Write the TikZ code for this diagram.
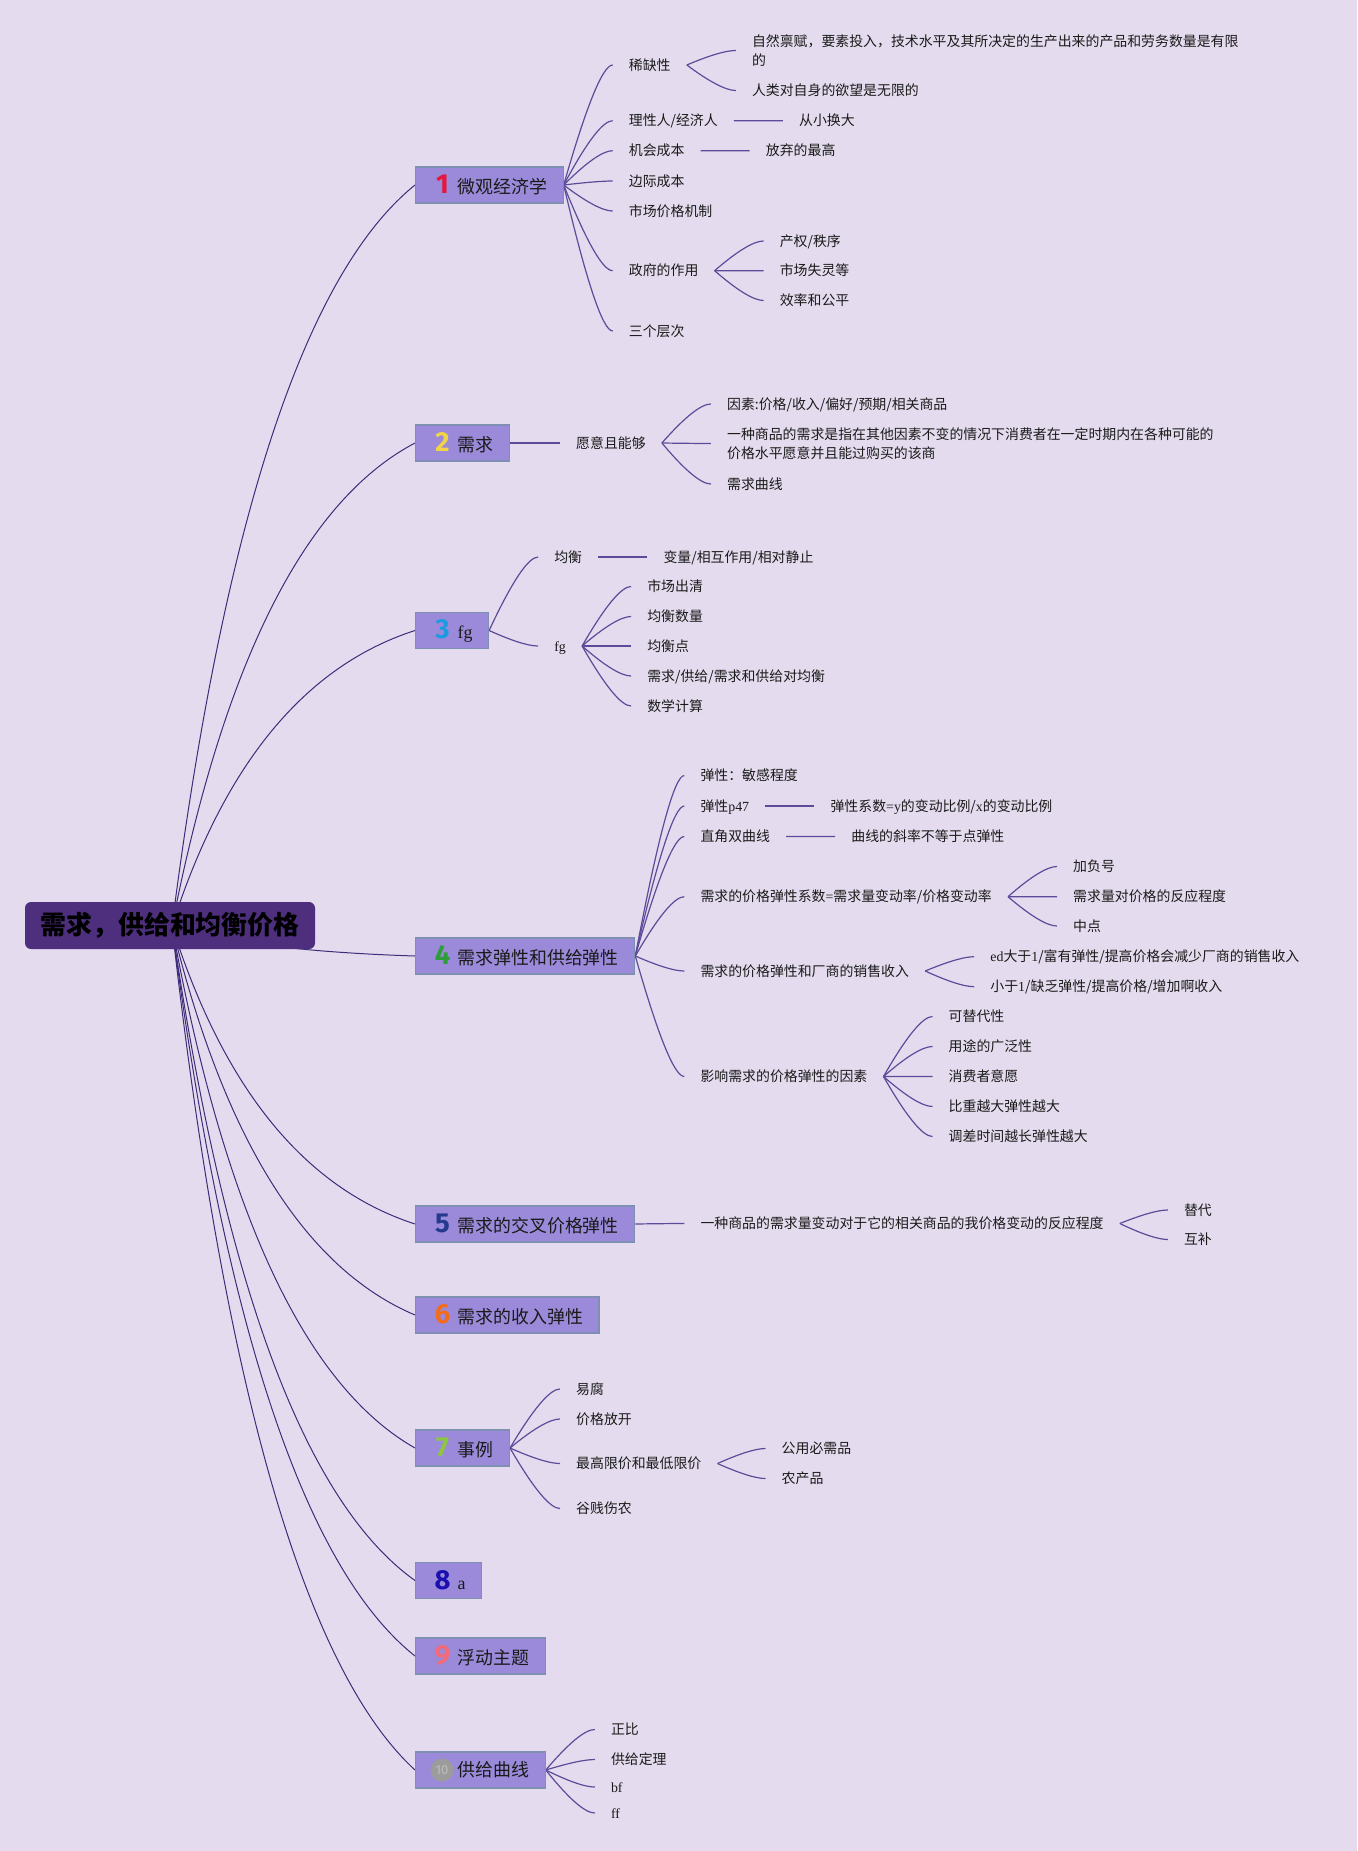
\documentclass[tikz,border=0pt]{standalone}
\usepackage{fontspec}
\setmainfont{Noto Sans CJK SC}
\newfontfamily\latfont{Liberation Serif}
\newfontfamily\numfont{Fira Sans}
\usetikzlibrary{calc,backgrounds}
\definecolor{bgcol}{HTML}{E4DCEE}
\definecolor{topicfill}{HTML}{9A8AD9}
\definecolor{topicdraw}{HTML}{7F8FB2}
\definecolor{rootfill}{HTML}{4E2F7E}
\definecolor{mainln}{HTML}{3D2C78}
\definecolor{subln}{HTML}{5C4B99}
\definecolor{txt}{HTML}{1A1A1A}
\definecolor{n1}{HTML}{E5173F}
\definecolor{n2}{HTML}{F2D546}
\definecolor{n3}{HTML}{1E9BE0}
\definecolor{n4}{HTML}{2E9E3A}
\definecolor{n5}{HTML}{253A8E}
\definecolor{n6}{HTML}{F46B1A}
\definecolor{n7}{HTML}{8DC640}
\definecolor{n8}{HTML}{1A0FAE}
\definecolor{n9}{HTML}{F56A78}
\definecolor{tencirc}{HTML}{9C9C9C}
\definecolor{tentext}{HTML}{BDBDBD}
\newcommand{\LatT}[1]{{\latfont #1}}
\newcommand{\tnum}[2]{\makebox[22pt]{\textcolor{#1}{\numfont\bfseries\fontsize{27.5}{27.5}\selectfont #2}}\hspace{4pt}}
\newcommand{\rootlink}[1]{\draw[mainline] let \p1=(rootc), \p2=(#1.west) in (\p1) .. controls ({0.7867*\x1+0.2133*\x2},{0.4533*\y1+0.5467*\y2}) and ({0.4533*\x1+0.5467*\x2},{0.12*\y1+0.88*\y2}) .. (\p2);}
\newcommand{\sublink}[2]{\draw[subline] let \p1=(#1.east), \p2=(#2.west) in (\p1) .. controls ({0.5333*\x1+0.4667*\x2},{0.3333*\y1+0.6667*\y2}) and ({0.2*\x1+0.8*\x2},{\y2}) .. (\p2);}
\tikzset{
  root/.style={rectangle, rounded corners=6pt, fill=rootfill, minimum width=290pt, minimum height=47pt, inner sep=0pt, text=black, font=\bfseries\fontsize{25.9}{26}\selectfont},
  topic/.style={rectangle, anchor=west, fill=topicfill, draw=topicdraw, line width=1.2pt, minimum height=36pt, inner xsep=16pt, inner ysep=0pt, text=txt, font=\fontsize{17.9}{20}\selectfont},
  sub/.style={anchor=west, inner xsep=16pt, inner ysep=2pt, text=txt, font=\fontsize{13.9}{19.5}\selectfont, text height=12.2pt, text depth=1.7pt},
  subml/.style={anchor=west, inner xsep=16pt, inner ysep=2pt, text=txt, font=\fontsize{13.9}{19.3}\selectfont, align=left},
  mainline/.style={draw=mainln, line width=1pt},
  subline/.style={draw=subln, line width=1.2pt},
}
\begin{document}
\begin{tikzpicture}[x=1pt,y=-1pt]
\useasboundingbox (0,0) rectangle (1357,1851);
\begin{scope}[on background layer]
\fill[bgcol] (0,0) rectangle (1357,1851);
\end{scope}

% root
\node[root] (root) at (170,925.5) {需求，供给和均衡价格};
\coordinate (rootc) at (172,926);

% topic 1
\node[topic] (t1) at (415,185) {\tnum{n1}{1}微观经济学};
\node[sub,xshift=49pt] (a1) at (t1.east |- 0,65) {稀缺性};
\node[sub,xshift=49pt] (a2) at (t1.east |- 0,120.7) {理性人/经济人};
\node[sub,xshift=49pt] (a3) at (t1.east |- 0,150.7) {机会成本};
\node[sub,xshift=49pt] (a4) at (t1.east |- 0,181) {边际成本};
\node[sub,xshift=49pt] (a5) at (t1.east |- 0,211) {市场价格机制};
\node[sub,xshift=49pt] (a6) at (t1.east |- 0,270.7) {政府的作用};
\node[sub,xshift=49pt] (a7) at (t1.east |- 0,331) {三个层次};
\node[subml,xshift=49pt] (a11) at (a1.east |- 0,50.5) {自然禀赋，要素投入，技术水平及其所决定的生产出来的产品和劳务数量是有限\\的};
\node[sub,xshift=49pt] (a12) at (a1.east |- 0,90.5) {人类对自身的欲望是无限的};
\node[sub,xshift=49pt] (a21) at (a2.east |- 0,120.7) {从小换大};
\node[sub,xshift=49pt] (a31) at (a3.east |- 0,150.7) {放弃的最高};
\node[sub,xshift=49pt] (a61) at (a6.east |- 0,241) {产权/秩序};
\node[sub,xshift=49pt] (a62) at (a6.east |- 0,270.7) {市场失灵等};
\node[sub,xshift=49pt] (a63) at (a6.east |- 0,300.5) {效率和公平};

% topic 2
\node[topic] (t2) at (415,443) {\tnum{n2}{2}需求};
\node[sub,xshift=50pt] (b1) at (t2.east |- 0,443) {愿意且能够};
\node[sub,xshift=49pt] (b11) at (b1.east |- 0,404) {因素:价格/收入/偏好/预期/相关商品};
\node[subml,xshift=49pt] (b12) at (b1.east |- 0,443.5) {一种商品的需求是指在其他因素不变的情况下消费者在一定时期内在各种可能的\\价格水平愿意并且能过购买的该商};
\node[sub,xshift=49pt] (b13) at (b1.east |- 0,484) {需求曲线};

% topic 3
\node[topic] (t3) at (415,630.5) {\tnum{n3}{3}\LatT{fg}};
\node[sub,xshift=49pt] (c1) at (t3.east |- 0,557) {均衡};
\node[sub,xshift=49pt] (c2) at (t3.east |- 0,646) {\LatT{fg}};
\node[sub,xshift=49pt] (c11) at (c1.east |- 0,557) {变量/相互作用/相对静止};
\node[sub,xshift=49pt] (c21) at (c2.east |- 0,586.5) {市场出清};
\node[sub,xshift=49pt] (c22) at (c2.east |- 0,616.5) {均衡数量};
\node[sub,xshift=49pt] (c23) at (c2.east |- 0,646) {均衡点};
\node[sub,xshift=49pt] (c24) at (c2.east |- 0,676) {需求/供给/需求和供给对均衡};
\node[sub,xshift=49pt] (c25) at (c2.east |- 0,706) {数学计算};

% topic 4
\node[topic] (t4) at (415,956) {\tnum{n4}{4}需求弹性和供给弹性};
\node[sub,xshift=49pt] (d1) at (t4.east |- 0,775.5) {弹性：敏感程度};
\node[sub,xshift=49pt] (d2) at (t4.east |- 0,806) {弹性\LatT{p47}};
\node[sub,xshift=49pt] (d3) at (t4.east |- 0,836.5) {直角双曲线};
\node[sub,xshift=49pt] (d4) at (t4.east |- 0,896.7) {需求的价格弹性系数\LatT{=}需求量变动率/价格变动率};
\node[sub,xshift=49pt] (d5) at (t4.east |- 0,971) {需求的价格弹性和厂商的销售收入};
\node[sub,xshift=49pt] (d6) at (t4.east |- 0,1076.5) {影响需求的价格弹性的因素};
\node[sub,xshift=49pt] (d21) at (d2.east |- 0,806) {弹性系数\LatT{=y}的变动比例/\LatT{x}的变动比例};
\node[sub,xshift=49pt] (d31) at (d3.east |- 0,836.5) {曲线的斜率不等于点弹性};
\node[sub,xshift=49pt] (d41) at (d4.east |- 0,866.5) {加负号};
\node[sub,xshift=49pt] (d42) at (d4.east |- 0,896.7) {需求量对价格的反应程度};
\node[sub,xshift=49pt] (d43) at (d4.east |- 0,926) {中点};
\node[sub,xshift=49pt] (d51) at (d5.east |- 0,956.7) {\LatT{ed}大于\LatT{1}/富有弹性/提高价格会减少厂商的销售收入};
\node[sub,xshift=49pt] (d52) at (d5.east |- 0,986.7) {小于\LatT{1}/缺乏弹性/提高价格/增加啊收入};
\node[sub,xshift=49pt] (d61) at (d6.east |- 0,1016.5) {可替代性};
\node[sub,xshift=49pt] (d62) at (d6.east |- 0,1046.5) {用途的广泛性};
\node[sub,xshift=49pt] (d63) at (d6.east |- 0,1076.5) {消费者意愿};
\node[sub,xshift=49pt] (d64) at (d6.east |- 0,1106.5) {比重越大弹性越大};
\node[sub,xshift=49pt] (d65) at (d6.east |- 0,1136.5) {调差时间越长弹性越大};

% topic 5
\node[topic] (t5) at (415,1224) {\tnum{n5}{5}需求的交叉价格弹性};
\node[sub,xshift=49pt] (e1) at (t5.east |- 0,1223.5) {一种商品的需求量变动对于它的相关商品的我价格变动的反应程度};
\node[sub,xshift=48pt] (e11) at (e1.east |- 0,1210) {替代};
\node[sub,xshift=48pt] (e12) at (e1.east |- 0,1239.5) {互补};

% topic 6
\node[topic] (t6) at (415,1315) {\tnum{n6}{6}需求的收入弹性};

% topic 7
\node[topic] (t7) at (415,1448) {\tnum{n7}{7}事例};
\node[sub,xshift=50pt] (g1) at (t7.east |- 0,1389) {易腐};
\node[sub,xshift=50pt] (g2) at (t7.east |- 0,1419) {价格放开};
\node[sub,xshift=50pt] (g3) at (t7.east |- 0,1463.5) {最高限价和最低限价};
\node[sub,xshift=50pt] (g4) at (t7.east |- 0,1508.5) {谷贱伤农};
\node[sub,xshift=48pt] (g31) at (g3.east |- 0,1448.5) {公用必需品};
\node[sub,xshift=48pt] (g32) at (g3.east |- 0,1478.5) {农产品};

% topic 8, 9
\node[topic] (t8) at (415,1580.5) {\tnum{n8}{8}\LatT{a}};
\node[topic] (t9) at (415,1656) {\tnum{n9}{9}浮动主题};

% topic 10
\node[topic] (t10) at (415,1770) {\makebox[22pt]{}\hspace{4pt}供给曲线};
\node[circle, fill=tencirc, minimum size=23pt, inner sep=0pt, text=tentext, font=\numfont\fontsize{13}{13}\selectfont] (t10i) at ([xshift=27pt]t10.west) {10};
\node[sub,xshift=49pt] (j1) at (t10.east |- 0,1729.5) {正比};
\node[sub,xshift=49pt] (j2) at (t10.east |- 0,1759.5) {供给定理};
\node[sub,xshift=49pt] (j3) at (t10.east |- 0,1787) {\LatT{bf}};
\node[sub,xshift=49pt] (j4) at (t10.east |- 0,1813) {\LatT{ff}};

\begin{scope}[on background layer]
\rootlink{t1}\rootlink{t2}\rootlink{t3}\rootlink{t4}\rootlink{t5}
\rootlink{t6}\rootlink{t7}\rootlink{t8}\rootlink{t9}\rootlink{t10}
\sublink{t1}{a1}\sublink{t1}{a2}\sublink{t1}{a3}\sublink{t1}{a4}\sublink{t1}{a5}\sublink{t1}{a6}\sublink{t1}{a7}
\sublink{a1}{a11}\sublink{a1}{a12}\sublink{a2}{a21}\sublink{a3}{a31}
\sublink{a6}{a61}\sublink{a6}{a62}\sublink{a6}{a63}
\sublink{t2}{b1}\sublink{b1}{b11}\sublink{b1}{b12}\sublink{b1}{b13}
\sublink{t3}{c1}\sublink{t3}{c2}\sublink{c1}{c11}
\sublink{c2}{c21}\sublink{c2}{c22}\sublink{c2}{c23}\sublink{c2}{c24}\sublink{c2}{c25}
\sublink{t4}{d1}\sublink{t4}{d2}\sublink{t4}{d3}\sublink{t4}{d4}\sublink{t4}{d5}\sublink{t4}{d6}
\sublink{d2}{d21}\sublink{d3}{d31}
\sublink{d4}{d41}\sublink{d4}{d42}\sublink{d4}{d43}
\sublink{d5}{d51}\sublink{d5}{d52}
\sublink{d6}{d61}\sublink{d6}{d62}\sublink{d6}{d63}\sublink{d6}{d64}\sublink{d6}{d65}
\sublink{t5}{e1}\sublink{e1}{e11}\sublink{e1}{e12}
\sublink{t7}{g1}\sublink{t7}{g2}\sublink{t7}{g3}\sublink{t7}{g4}
\sublink{g3}{g31}\sublink{g3}{g32}
\sublink{t10}{j1}\sublink{t10}{j2}\sublink{t10}{j3}\sublink{t10}{j4}
\end{scope}
\end{tikzpicture}
\end{document}
